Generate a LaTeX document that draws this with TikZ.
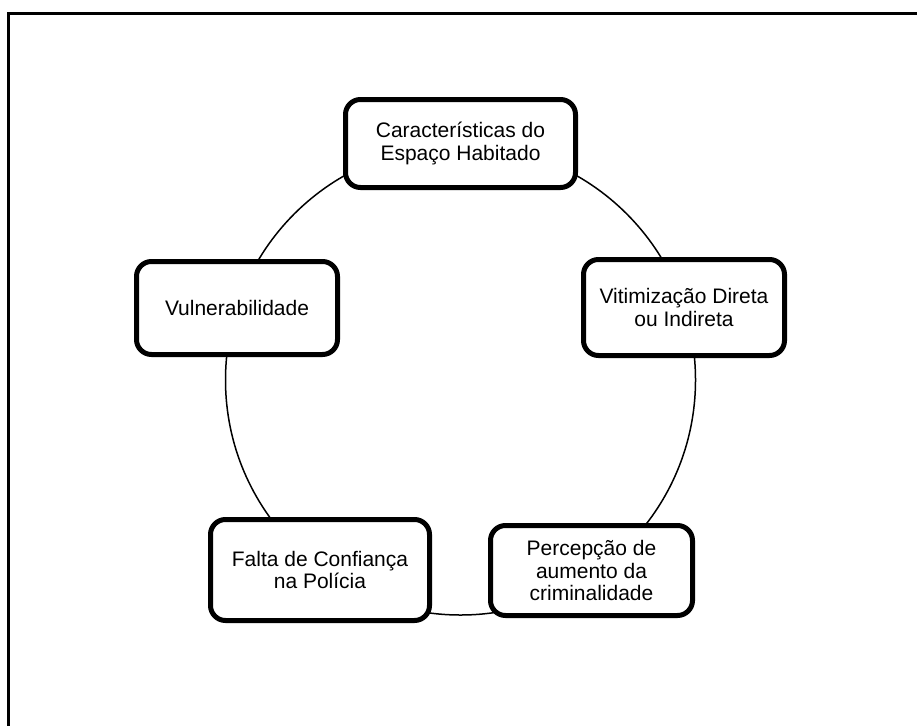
\documentclass[tikz,border=0pt]{standalone}
\usepackage{fontspec}
\setmainfont{Liberation Sans}
\begin{document}
\begin{tikzpicture}[x=1pt,y=-1pt,
  stage/.style={draw=black, fill=white, line width=5pt, rounded corners=15pt,
    inner sep=0pt, align=center, font=\fontsize{21}{22.5}\selectfont},
  ring/.style={draw=black, line width=1.5pt},
  frameline/.style={draw=black, line width=2.6pt}]
\useasboundingbox (0,0) rectangle (917,725);
% frame (only top and left edges visible)
\coordinate (fbl) at (8.5,726);
\coordinate (ftl) at (8.5,13.5);
\coordinate (ftr) at (918,13.5);
\draw[frameline] (fbl) -- (ftl) -- (ftr);
% cycle circle
\coordinate (c) at (460.5,380);
\draw[ring] (c) circle[radius=235];
% stages
\node[stage, minimum width=230pt, minimum height=88pt] (esp) at (460.5,143.5)
  {Características do\\Espaço Habitado};
\node[stage, minimum width=201pt, minimum height=96pt] (vit) at (684,307.5)
  {Vitimização Direta\\ou Indireta};
\node[stage, minimum width=202pt, minimum height=90pt] (per) at (591.5,570.5)
  {Percepção de\\aumento da\\criminalidade};
\node[stage, minimum width=219pt, minimum height=101pt] (fal) at (320,570)
  {Falta de Confiança\\na Polícia};
\node[stage, minimum width=201pt, minimum height=93pt] (vul) at (237,308)
  {Vulnerabilidade};
\end{tikzpicture}
\end{document}
